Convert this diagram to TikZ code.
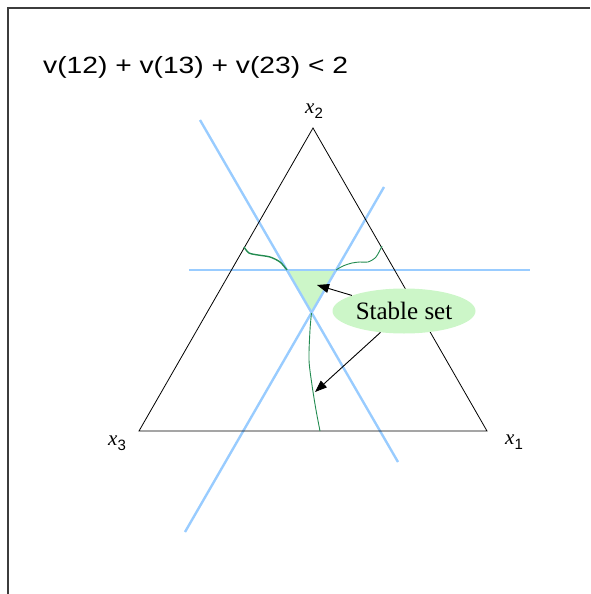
\documentclass[tikz,border=0pt]{standalone}
\usepackage{fontspec}
\setmainfont{Liberation Serif}
\setsansfont{Liberation Sans}
\usetikzlibrary{shapes.geometric,arrows.meta}
\definecolor{lblue}{RGB}{153,204,255}
\definecolor{lgreen}{RGB}{204,246,200}
\definecolor{dgreen}{RGB}{34,139,80}
\definecolor{framegray}{RGB}{60,60,60}
\newcommand{\vtxlabel}[1]{\textit{x}\raisebox{-5.5pt}{\sffamily\fontsize{15}{15}\selectfont #1}}
\begin{document}
\begin{tikzpicture}[x=1pt,y=-1pt,
  frameline/.style={draw=framegray,line width=1.2pt},
  triline/.style={draw=black,line width=0.8pt},
  blueline/.style={draw=lblue,line width=2.4pt},
  greencurve/.style={draw=dgreen,line width=0.9pt},
  pointer/.style={draw=black,line width=0.9pt,-{Triangle[length=12pt,width=9pt]}},
  vlabel/.style={inner sep=0pt,anchor=base west,font=\fontsize{21}{24}\selectfont}
]
\useasboundingbox (0,0) rectangle (590,594);
\draw[frameline] (8,594) -- (8,8) -- (590,8);

\node[anchor=base west,inner sep=0pt,font=\sffamily\fontsize{23.5}{28}\selectfont] (title) at (43,74) {\scalebox{1.2}[1]{v(12) + v(13) + v(23) < 2}};

% triangle vertices
\coordinate (x2) at (313,128);
\coordinate (x3) at (139,431);
\coordinate (x1) at (487,431);

% stable region
\coordinate (s1) at (287,270);
\coordinate (s2) at (336,270);
\coordinate (s3) at (311.5,313);
\fill[lgreen] (s1) -- (s2) -- (s3) -- cycle;

% blue lines
\coordinate (a1) at (200,120);
\coordinate (a2) at (398,462);
\coordinate (b1) at (384,187);
\coordinate (b2) at (185,532);
\coordinate (c1) at (189,270);
\coordinate (c2) at (530,270);
\draw[blueline] (a1) -- (a2);
\draw[blueline] (b1) -- (b2);
\draw[blueline] (c1) -- (c2);

\draw[triline] (x2) -- (x1) -- (x3) -- cycle;

% green curves
\draw[greencurve,line width=1.4pt] plot[smooth] coordinates {(244,247) (249,253) (258,255) (270,257) (280,262) (287,270)};
\draw[greencurve] plot[smooth] coordinates {(336,270) (343,266) (352,263) (360,262) (368,262) (376,257) (382,246)};
\draw[greencurve] plot[smooth] coordinates {(311.5,313) (310,330) (309,360) (312,385) (316,410) (320,431)};

% vertex labels
\node[vlabel] (l2) at (305,113) {\vtxlabel{2}};
\node[vlabel] (l3) at (108,445) {\vtxlabel{3}};
\node[vlabel] (l1) at (505,444) {\vtxlabel{1}};

% stable set
\node[ellipse,fill=lgreen,minimum width=143pt,minimum height=45pt,inner sep=0pt,font=\fontsize{25}{28}\selectfont] (ell) at (404,311) {Stable set};
\coordinate (t1) at (317,285);
\coordinate (t2) at (315,392);
\draw[pointer] (ell) -- (t1);
\draw[pointer] (ell) -- (t2);
\end{tikzpicture}
\end{document}
